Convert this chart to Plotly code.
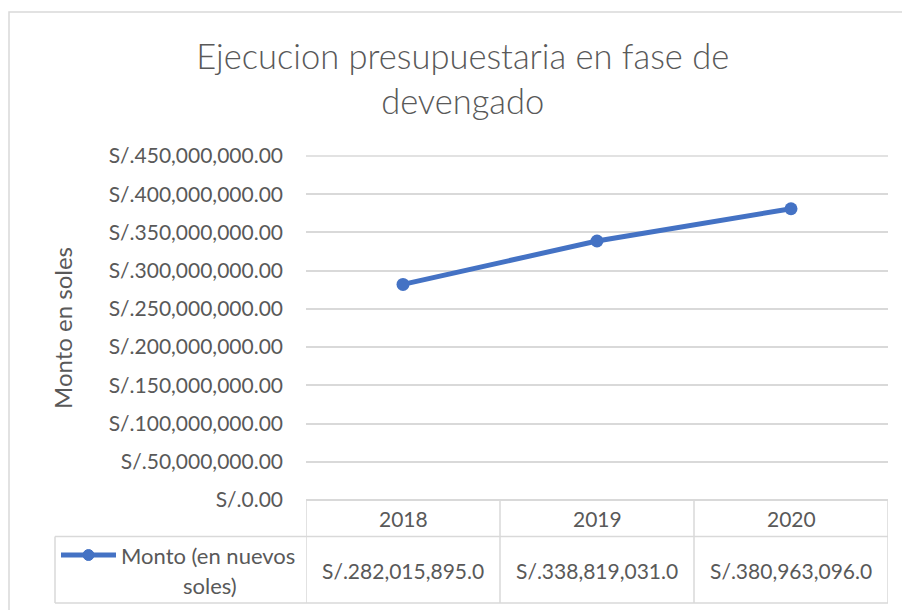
import plotly.graph_objects as go

W, H = 902, 610

anios = ["2018", "2019", "2020"]
montos = [282015895.0, 338819031.0, 380963096.0]
y_max = 450e6
y_paso = 50e6
serie = "Monto (en nuevos soles)"
titulo = "Ejecucion presupuestaria en fase de<br>devengado"
titulo_y = "Monto en soles"

azul = "#4472C4"
gris_txt = "#595959"
gris_lin = "#D9D9D9"
fuente = "Lato"

# area del grafico en pixeles
plot_x0, plot_x1 = 306, 888
plot_y0, plot_y1 = 156, 500


def px_x(v):
    return v / W


def px_y(v):
    return 1 - v / H


fig = go.Figure()
fig.add_trace(go.Scatter(
    x=anios, y=montos, mode="lines+markers", name=serie,
    line=dict(color=azul, width=5),
    marker=dict(color=azul, size=13),
    showlegend=False,
))

fig.update_layout(
    width=W, height=H,
    margin=dict(l=0, r=0, t=0, b=0, pad=0),
    paper_bgcolor="white", plot_bgcolor="white",
    font=dict(family=fuente, color=gris_txt),
    title=dict(text=titulo, x=0.513, xanchor="center", y=px_y(69), yanchor="top",
               font=dict(size=34.5, color=gris_txt, family=fuente, weight=300)),
    xaxis=dict(domain=[px_x(plot_x0), px_x(plot_x1)], type="category", range=[-0.5, 2.5],
               showticklabels=False, showgrid=False, zeroline=False, showline=False,
               automargin=False),
    yaxis=dict(domain=[px_y(plot_y1), px_y(plot_y0)], range=[0, y_max], dtick=y_paso,
               tickprefix="S/.", tickformat=",.2f", tickfont=dict(size=21, color=gris_txt),
               ticklabelstandoff=22, automargin=False,
               showgrid=True, gridcolor=gris_lin, gridwidth=1.5,
               zeroline=True, zerolinecolor=gris_lin, zerolinewidth=1.5, showline=False),
)

shapes = []
# marco del grafico
shapes.append(dict(type="rect", xref="paper", yref="paper", x0=px_x(9), x1=px_x(905),
                   y0=px_y(615), y1=px_y(12), line=dict(color=gris_lin, width=1.5)))
# linea de cuadricula superior (plotly la omite en el borde)
shapes.append(dict(type="line", xref="paper", yref="paper", x0=px_x(plot_x0), x1=px_x(plot_x1),
                   y0=px_y(plot_y0), y1=px_y(plot_y0),
                   line=dict(color=gris_lin, width=1.5), layer="below"))
# tabla de datos
for y in (536.5, 603):
    shapes.append(dict(type="line", xref="paper", yref="paper", x0=px_x(55), x1=px_x(plot_x1),
                       y0=px_y(y), y1=px_y(y), line=dict(color=gris_lin, width=1.5)))
shapes.append(dict(type="line", xref="paper", yref="paper", x0=px_x(55), x1=px_x(55),
                   y0=px_y(536.5), y1=px_y(603), line=dict(color=gris_lin, width=1.5)))
for k in range(len(anios) + 1):
    shapes.append(dict(type="line", xref="x", yref="paper", x0=k - 0.5, x1=k - 0.5,
                       y0=px_y(499), y1=px_y(603), line=dict(color=gris_lin, width=1.5)))
# simbolo de leyenda
shapes.append(dict(type="line", xref="paper", yref="paper", x0=px_x(61), x1=px_x(116),
                   y0=px_y(555), y1=px_y(555), line=dict(color=azul, width=5)))
shapes.append(dict(type="circle", xref="paper", yref="paper", x0=px_x(83), x1=px_x(94),
                   y0=px_y(549.5), y1=px_y(560.5), fillcolor=azul, line=dict(color=azul, width=1)))
fig.update_layout(shapes=shapes)

anots = []
for i, a in enumerate(anios):
    anots.append(dict(x=i, xref="x", y=px_y(518), yref="paper", text=a, showarrow=False,
                      xanchor="center", yanchor="middle", font=dict(size=21, color=gris_txt)))
    anots.append(dict(x=i, xref="x", y=px_y(570), yref="paper", text=f"S/.{montos[i]:,.1f}",
                      showarrow=False, xanchor="center", yanchor="middle",
                      font=dict(size=21, color=gris_txt)))
nombre = serie.split(" soles")[0]
anots.append(dict(x=px_x(119), xref="paper", y=px_y(555), yref="paper", text=nombre,
                  xanchor="left", yanchor="middle", showarrow=False,
                  font=dict(size=22, color=gris_txt)))
anots.append(dict(x=px_x(210), xref="paper", y=px_y(585), yref="paper", text="soles)",
                  xanchor="center", yanchor="middle", showarrow=False,
                  font=dict(size=22, color=gris_txt)))
anots.append(dict(x=px_x(62), xref="paper", y=px_y(328), yref="paper", text=titulo_y,
                  textangle=-90, xanchor="center", yanchor="middle", showarrow=False,
                  font=dict(size=24, color=gris_txt)))
fig.update_layout(annotations=anots)

fig.write_html("out.html", config={"displayModeBar": False},
               post_script="document.body.style.margin='0';")
